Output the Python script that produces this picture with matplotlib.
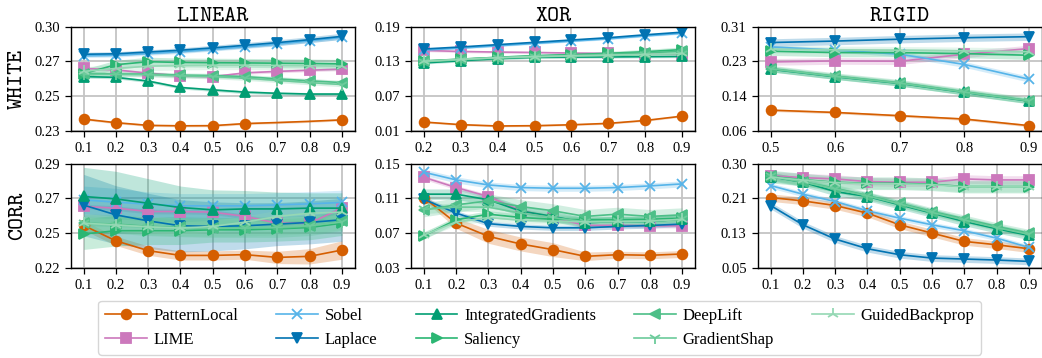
import numpy as np
import matplotlib
matplotlib.use("Agg")
import matplotlib.pyplot as plt
from matplotlib.lines import Line2D

plt.rcParams["font.family"] = ["Liberation Serif", "DejaVu Serif"]
plt.rcParams["axes.unicode_minus"] = False

methods = ["PatternLocal", "LIME", "Sobel", "Laplace", "IntegratedGradients",
           "Saliency", "DeepLift", "GradientShap", "GuidedBackprop"]
colors = {
    "PatternLocal": "#d55e00", "LIME": "#cc78bc", "Sobel": "#56b4e9",
    "Laplace": "#0173b2", "IntegratedGradients": "#029e73",
    "Saliency": "#2bb673", "DeepLift": "#4dbf88",
    "GradientShap": "#6ccb9b", "GuidedBackprop": "#95d8b4",
}
markers = {
    "PatternLocal": "o", "LIME": "s", "Sobel": "x", "Laplace": "v",
    "IntegratedGradients": "^", "Saliency": ">", "DeepLift": "<",
    "GradientShap": "1", "GuidedBackprop": "2",
}

datasets = ["LINEAR", "XOR", "RIGID"]
noises = ["WHITE", "CORR"]

x_full = [0.1, 0.2, 0.3, 0.4, 0.5, 0.6, 0.7, 0.8, 0.9]
x_xor_white = [0.2, 0.3, 0.4, 0.5, 0.6, 0.7, 0.8, 0.9]
x_rigid_white = [0.5, 0.6, 0.7, 0.8, 0.9]

# ---- mean scores -------------------------------------------------------
linear_white = {
    "PatternLocal": [0.2360, 0.2336, 0.2318, 0.2315, 0.2316, 0.2330, 0.2337, 0.2345, 0.2355],
    "LIME": [0.2700, 0.2690, 0.2668, 0.2650, 0.2645, 0.2670, 0.2680, 0.2688, 0.2695],
    "Sobel": [0.2785, 0.2788, 0.2800, 0.2812, 0.2828, 0.2845, 0.2863, 0.2885, 0.2908],
    "Laplace": [0.2795, 0.2798, 0.2810, 0.2822, 0.2838, 0.2855, 0.2873, 0.2893, 0.2915],
    "IntegratedGradients": [0.2645, 0.2640, 0.2615, 0.2572, 0.2556, 0.2541, 0.2533, 0.2528, 0.2528],
    "Saliency": [0.2665, 0.2725, 0.2745, 0.2740, 0.2738, 0.2737, 0.2735, 0.2733, 0.2730],
    "DeepLift": [0.2665, 0.2663, 0.2662, 0.2655, 0.2652, 0.2645, 0.2630, 0.2617, 0.2605],
    "GradientShap": [0.2660, 0.2660, 0.2658, 0.2650, 0.2645, 0.2635, 0.2620, 0.2605, 0.2592],
    "GuidedBackprop": [0.2680, 0.2700, 0.2715, 0.2720, 0.2722, 0.2722, 0.2720, 0.2718, 0.2715],
}
xor_white = {
    "PatternLocal": [0.0255, 0.0210, 0.0187, 0.0192, 0.0208, 0.0232, 0.0282, 0.0357],
    "LIME": [0.1490, 0.1472, 0.1462, 0.1455, 0.1445, 0.1438, 0.1432, 0.1430],
    "Sobel": [0.1495, 0.1530, 0.1570, 0.1610, 0.1650, 0.1690, 0.1740, 0.1785],
    "Laplace": [0.1515, 0.1550, 0.1590, 0.1630, 0.1670, 0.1710, 0.1760, 0.1805],
    "IntegratedGradients": [0.1275, 0.1312, 0.1350, 0.1372, 0.1375, 0.1378, 0.1382, 0.1386],
    "Saliency": [0.1310, 0.1340, 0.1372, 0.1398, 0.1418, 0.1440, 0.1468, 0.1505],
    "DeepLift": [0.1300, 0.1335, 0.1368, 0.1390, 0.1408, 0.1428, 0.1450, 0.1475],
    "GradientShap": [0.1295, 0.1330, 0.1360, 0.1380, 0.1392, 0.1402, 0.1418, 0.1435],
    "GuidedBackprop": [0.1305, 0.1338, 0.1365, 0.1385, 0.1398, 0.1410, 0.1422, 0.1440],
}
rigid_white = {
    "PatternLocal": [0.1100, 0.1045, 0.0967, 0.0887, 0.0730],
    "LIME": [0.2255, 0.2280, 0.2272, 0.2440, 0.2575],
    "Sobel": [0.2615, 0.2540, 0.2440, 0.2195, 0.1842],
    "Laplace": [0.2720, 0.2755, 0.2800, 0.2835, 0.2860],
    "IntegratedGradients": [0.2080, 0.1900, 0.1740, 0.1525, 0.1318],
    "Saliency": [0.2512, 0.2480, 0.2478, 0.2455, 0.2415],
    "DeepLift": [0.2095, 0.1915, 0.1755, 0.1540, 0.1330],
    "GradientShap": [0.2090, 0.1908, 0.1748, 0.1532, 0.1325],
    "GuidedBackprop": [0.2560, 0.2545, 0.2535, 0.2520, 0.2500],
}
linear_corr = {
    "PatternLocal": [0.2517, 0.2417, 0.2353, 0.2322, 0.2322, 0.2327, 0.2309, 0.2316, 0.2357],
    "LIME": [0.2641, 0.2630, 0.2608, 0.2608, 0.2604, 0.2576, 0.2532, 0.2532, 0.2630],
    "Sobel": [0.2684, 0.2669, 0.2656, 0.2645, 0.2645, 0.2645, 0.2651, 0.2658, 0.2667],
    "Laplace": [0.2650, 0.2586, 0.2547, 0.2515, 0.2511, 0.2515, 0.2526, 0.2537, 0.2554],
    "IntegratedGradients": [0.2706, 0.2690, 0.2662, 0.2634, 0.2619, 0.2625, 0.2625, 0.2630, 0.2630],
    "Saliency": [0.2461, 0.2483, 0.2483, 0.2483, 0.2489, 0.2489, 0.2495, 0.2504, 0.2532],
    "DeepLift": [0.2532, 0.2526, 0.2511, 0.2504, 0.2500, 0.2500, 0.2500, 0.2511, 0.2543],
    "GradientShap": [0.2530, 0.2522, 0.2508, 0.2500, 0.2498, 0.2500, 0.2505, 0.2515, 0.2540],
    "GuidedBackprop": [0.2532, 0.2520, 0.2508, 0.2500, 0.2511, 0.2539, 0.2576, 0.2597, 0.2604],
}
xor_corr = {
    "PatternLocal": [0.1110, 0.0816, 0.0664, 0.0576, 0.0511, 0.0434, 0.0453, 0.0446, 0.0461],
    "LIME": [0.1343, 0.1225, 0.1122, 0.0960, 0.0880, 0.0790, 0.0790, 0.0785, 0.0785],
    "Sobel": [0.1401, 0.1313, 0.1255, 0.1225, 0.1217, 0.1217, 0.1225, 0.1244, 0.1267],
    "Laplace": [0.1090, 0.0931, 0.0810, 0.0778, 0.0762, 0.0762, 0.0778, 0.0789, 0.0805],
    "IntegratedGradients": [0.1149, 0.1149, 0.1084, 0.0955, 0.0893, 0.0820, 0.0835, 0.0835, 0.0862],
    "Saliency": [0.0671, 0.0854, 0.0919, 0.0881, 0.0860, 0.0855, 0.0855, 0.0860, 0.0873],
    "DeepLift": [0.0969, 0.1026, 0.1072, 0.1007, 0.0958, 0.0893, 0.0919, 0.0893, 0.0912],
    "GradientShap": [0.0975, 0.1000, 0.1000, 0.0930, 0.0880, 0.0830, 0.0835, 0.0840, 0.0860],
    "GuidedBackprop": [0.0680, 0.0830, 0.0880, 0.0850, 0.0840, 0.0830, 0.0835, 0.0840, 0.0860],
}
rigid_corr = {
    "PatternLocal": [0.2154, 0.2075, 0.1965, 0.1783, 0.1506, 0.1309, 0.1112, 0.1032, 0.0938],
    "LIME": [0.2676, 0.2628, 0.2597, 0.2533, 0.2518, 0.2518, 0.2597, 0.2573, 0.2573],
    "Sobel": [0.2439, 0.2233, 0.2060, 0.1838, 0.1664, 0.1506, 0.1364, 0.1190, 0.0969],
    "Laplace": [0.1964, 0.1506, 0.1167, 0.0938, 0.0795, 0.0716, 0.0693, 0.0669, 0.0637],
    "IntegratedGradients": [0.2652, 0.2518, 0.2296, 0.2178, 0.1980, 0.1783, 0.1585, 0.1412, 0.1254],
    "Saliency": [0.2652, 0.2580, 0.2518, 0.2494, 0.2494, 0.2470, 0.2415, 0.2415, 0.2415],
    "DeepLift": [0.2660, 0.2530, 0.2375, 0.2202, 0.2020, 0.1822, 0.1649, 0.1467, 0.1309],
    "GradientShap": [0.2655, 0.2525, 0.2360, 0.2190, 0.2000, 0.1800, 0.1620, 0.1440, 0.1280],
    "GuidedBackprop": [0.2640, 0.2570, 0.2510, 0.2485, 0.2480, 0.2460, 0.2410, 0.2410, 0.2410],
}

# ---- spread (half-width of shaded band) --------------------------------
linear_white_sd = {
    "PatternLocal": 0.0007, "LIME": 0.0010, "Sobel": 0.0012,
    "Laplace": [0.0014, 0.0014, 0.0015, 0.0016, 0.0017, 0.0018, 0.0019, 0.0020, 0.0021],
    "IntegratedGradients": 0.0010, "Saliency": 0.0030, "DeepLift": 0.0015,
    "GradientShap": 0.0015, "GuidedBackprop": 0.0030,
}
xor_white_sd = {
    "PatternLocal": 0.0015, "LIME": 0.0020, "Sobel": 0.0015, "Laplace": 0.0012,
    "IntegratedGradients": 0.0020, "Saliency": [0.002, 0.002, 0.0025, 0.003, 0.003, 0.0035, 0.004, 0.0045],
    "DeepLift": 0.0025, "GradientShap": 0.0025, "GuidedBackprop": 0.0025,
}
rigid_white_sd = {
    "PatternLocal": 0.0030, "LIME": 0.0080, "Sobel": [0.004, 0.005, 0.006, 0.007, 0.007],
    "Laplace": 0.0090, "IntegratedGradients": 0.0060, "Saliency": 0.0100,
    "DeepLift": 0.0080, "GradientShap": 0.0070, "GuidedBackprop": 0.0090,
}
linear_corr_sd = {
    "PatternLocal": [0.003, 0.003, 0.003, 0.003, 0.003, 0.003, 0.004, 0.005, 0.006],
    "LIME": 0.0015, "Sobel": [0.009, 0.009, 0.008, 0.008, 0.008, 0.008, 0.008, 0.008, 0.008],
    "Laplace": [0.020, 0.019, 0.018, 0.017, 0.016, 0.015, 0.014, 0.014, 0.014],
    "IntegratedGradients": [0.019, 0.018, 0.016, 0.014, 0.013, 0.012, 0.011, 0.010, 0.010],
    "Saliency": [0.010, 0.010, 0.009, 0.009, 0.008, 0.008, 0.008, 0.008, 0.008],
    "DeepLift": 0.0060, "GradientShap": 0.0050, "GuidedBackprop": 0.0040,
}
xor_corr_sd = {
    "PatternLocal": [0.003, 0.006, 0.008, 0.008, 0.008, 0.005, 0.004, 0.004, 0.004],
    "LIME": 0.0025, "Sobel": 0.0035, "Laplace": 0.0030,
    "IntegratedGradients": 0.0060, "Saliency": 0.0040, "DeepLift": 0.0080,
    "GradientShap": 0.0050, "GuidedBackprop": 0.0040,
}
rigid_corr_sd = {
    "PatternLocal": 0.0090, "LIME": 0.0100, "Sobel": 0.0060, "Laplace": 0.0080,
    "IntegratedGradients": 0.0100, "Saliency": 0.0150, "DeepLift": 0.0090,
    "GradientShap": 0.0080, "GuidedBackprop": 0.0120,
}

panels = {
    ("LINEAR", "WHITE"): (x_full, linear_white, linear_white_sd, (0.228, 0.298)),
    ("XOR", "WHITE"): (x_xor_white, xor_white, xor_white_sd, (0.01, 0.19)),
    ("RIGID", "WHITE"): (x_rigid_white, rigid_white, rigid_white_sd, (0.06, 0.31)),
    ("LINEAR", "CORR"): (x_full, linear_corr, linear_corr_sd, (0.224, 0.292)),
    ("XOR", "CORR"): (x_full, xor_corr, xor_corr_sd, (0.03, 0.15)),
    ("RIGID", "CORR"): (x_full, rigid_corr, rigid_corr_sd, (0.048, 0.296)),
}
# points drawn without a marker
marker_gaps = {("LINEAR", "WHITE", "PatternLocal"): [6, 7]}

fig = plt.figure(figsize=(10.42, 3.58), dpi=100)
lefts = [0.0679, 0.3944, 0.7272]
bottoms = {"WHITE": 0.634, "CORR": 0.2514}
width, height = 0.2726, 0.2915

for ci, ds in enumerate(datasets):
    for noise in noises:
        ax = fig.add_axes([lefts[ci], bottoms[noise], width, height])
        x, means, sds, ylim = panels[(ds, noise)]
        xa = np.array(x)
        for m in methods:
            y = np.array(means[m])
            sd = np.broadcast_to(np.array(sds[m], dtype=float), y.shape)
            c = colors[m]
            ax.fill_between(xa, y - sd, y + sd, color=c, alpha=0.25, lw=0)
            gaps = marker_gaps.get((ds, noise, m), [])
            every = [i for i in range(len(xa)) if i not in gaps]
            ms = 9 if markers[m] in ("1", "2") else 7
            ax.plot(xa, y, color=c, lw=1.2, marker=markers[m], ms=ms,
                    mew=1.3, markevery=every)
        ax.set_ylim(*ylim)
        yt = np.linspace(ylim[0], ylim[1], 4)
        ax.set_yticks(yt)
        ax.set_yticklabels([f"{v:.2f}" for v in yt])
        ax.set_xticks(x)
        ax.set_xticklabels([f"{v:.1f}" for v in x])
        ax.grid(True, color="#c4c4c4", lw=1.3)
        ax.set_axisbelow(True)
        ax.tick_params(labelsize=10.5, length=4, width=0.9, pad=4)
        for s in ax.spines.values():
            s.set_linewidth(1.0)
        if noise == "WHITE":
            ax.set_title(ds, family="cmtt10", fontsize=16.5, pad=4)
        if ci == 0:
            ax.set_ylabel(noise, family="cmtt10", fontsize=16.5, labelpad=5)

handles = [Line2D([], [], color=colors[m], lw=1.2, marker=markers[m],
                  ms=9 if markers[m] in ("1", "2") else 7, mew=1.3)
           for m in methods]
fig.legend(handles, methods, loc="lower center", bbox_to_anchor=(0.518, 0.0),
           ncol=5, fontsize=12, handlelength=2.5, handletextpad=0.4,
           columnspacing=2.3, borderaxespad=0.2, frameon=True)

fig.savefig("out.png", dpi=100)
